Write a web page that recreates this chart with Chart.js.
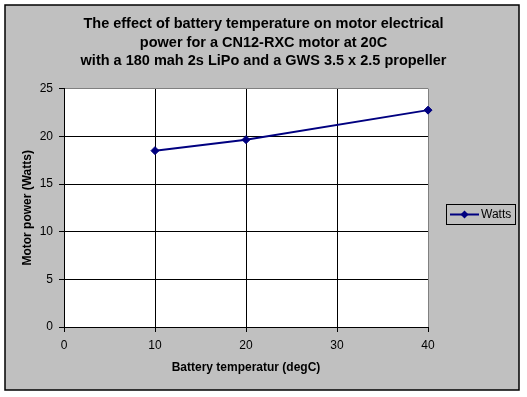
<!DOCTYPE html>
<html>
<head>
<meta charset="utf-8">
<script src="https://cdn.jsdelivr.net/npm/chart.js@4"></script>
<style>
  html, body { margin: 0; padding: 0; background: #fff; }
  #wrap { width: 527px; height: 397px; }
</style>
</head>
<body>
<div id="wrap"><canvas id="grafico" width="527" height="397"></canvas></div>
<script>
const temperaturas = [10, 20, 40];
const watts = [18.5, 19.65, 22.75];
const ticksX = [0, 10, 20, 30, 40];
const ticksY = [0, 5, 10, 15, 20, 25];
const titulo = [
    "The effect of battery temperature on motor electrical",
    "power for a CN12-RXC motor at 20C",
    "with a 180 mah 2s LiPo and a GWS 3.5 x 2.5 propeller"
];
const serie = "Watts";

const fonte = "'Liberation Sans', Arial, sans-serif";
const azul = "#000080";

// fundo cinza, moldura preta e área do gráfico branca
const fundo = {
    id: "fundo",
    beforeDraw(chart) {
        const ctx = chart.ctx;
        const a = chart.chartArea;
        ctx.save();
        ctx.fillStyle = "#fff";
        ctx.fillRect(0, 0, chart.width, chart.height);
        ctx.fillStyle = "#c0c0c0";
        ctx.fillRect(5, 5, 514, 385);
        ctx.strokeStyle = "#000";
        ctx.lineWidth = 1.5;
        ctx.strokeRect(5, 5, 514, 385);
        ctx.fillStyle = "#fff";
        ctx.fillRect(a.left, a.top, a.right - a.left, a.bottom - a.top);
        ctx.restore();
    },
    afterDraw(chart) {
        // legenda com caixa, como no Excel
        const ctx = chart.ctx;
        const ds = chart.data.datasets[0];
        ctx.save();
        ctx.strokeStyle = "#000";
        ctx.lineWidth = 1;
        ctx.strokeRect(446.5, 204.5, 69, 20);
        ctx.strokeStyle = ds.borderColor;
        ctx.lineWidth = 2;
        ctx.beginPath();
        ctx.moveTo(450, 214.5);
        ctx.lineTo(479, 214.5);
        ctx.stroke();
        ctx.fillStyle = ds.pointBackgroundColor;
        ctx.beginPath();
        ctx.moveTo(464.5, 210.5);
        ctx.lineTo(468.5, 214.5);
        ctx.lineTo(464.5, 218.5);
        ctx.lineTo(460.5, 214.5);
        ctx.closePath();
        ctx.fill();
        ctx.fillStyle = "#000";
        ctx.font = "12px " + fonte;
        ctx.textBaseline = "middle";
        ctx.fillText(ds.label, 481, 215);
        ctx.restore();
    }
};

new Chart(document.getElementById("grafico"), {
    type: "line",
    data: {
        datasets: [{
            label: serie,
            data: temperaturas.map((t, i) => ({ x: t, y: watts[i] })),
            borderColor: azul,
            backgroundColor: azul,
            pointBackgroundColor: azul,
            pointBorderColor: azul,
            borderWidth: 2,
            pointStyle: "rectRot",
            pointRadius: 4,
            pointBorderWidth: 1,
            tension: 0,
            clip: false
        }]
    },
    options: {
        responsive: false,
        animation: false,
        layout: { padding: 0 },
        plugins: {
            legend: { display: false },
            tooltip: { enabled: false },
            title: {
                display: true,
                text: titulo,
                color: "#000",
                font: { family: fonte, size: 14.5, weight: "bold", lineHeight: 1.28 },
                padding: { top: 15, bottom: 18 }
            }
        },
        scales: {
            x: {
                type: "linear",
                min: 0,
                max: 40,
                afterFit: s => { s.height = 70; },
                afterBuildTicks: s => { s.ticks = ticksX.map(v => ({ value: v })); },
                ticks: { color: "#000", font: { family: fonte, size: 12 }, padding: 6, maxRotation: 0 },
                grid: {
                    color: c => c.tick && c.tick.value === 40 ? "#808080" : "#000",
                    tickColor: "#000",
                    tickLength: 5,
                    lineWidth: 1
                },
                border: { color: "#000", width: 1 },
                title: {
                    display: true,
                    text: "Battery temperatur (degC)",
                    color: "#000",
                    font: { family: fonte, size: 12, weight: "bold" },
                    padding: { top: 0, bottom: 22 }
                }
            },
            y: {
                min: 0,
                max: 25,
                afterFit: s => { s.width = 64; },
                afterBuildTicks: s => { s.ticks = ticksY.map(v => ({ value: v })); },
                ticks: { color: "#000", font: { family: fonte, size: 12 }, padding: 6 },
                grid: {
                    color: c => c.tick && c.tick.value === 25 ? "#808080" : "#000",
                    tickColor: "#000",
                    tickLength: 5,
                    lineWidth: 1
                },
                border: { color: "#000", width: 1 },
                title: {
                    display: true,
                    text: "Motor power (Watts)",
                    color: "#000",
                    font: { family: fonte, size: 12, weight: "bold" },
                    padding: { top: 20, bottom: 0 }
                }
            },
            // eixo vazio à direita, só para reservar o espaço da legenda
            espaco: {
                position: "right",
                display: true,
                afterFit: s => { s.width = 99; },
                ticks: { display: false },
                grid: { display: false, drawTicks: false },
                border: { display: false }
            }
        }
    },
    plugins: [fundo]
});
</script>
</body>
</html>
